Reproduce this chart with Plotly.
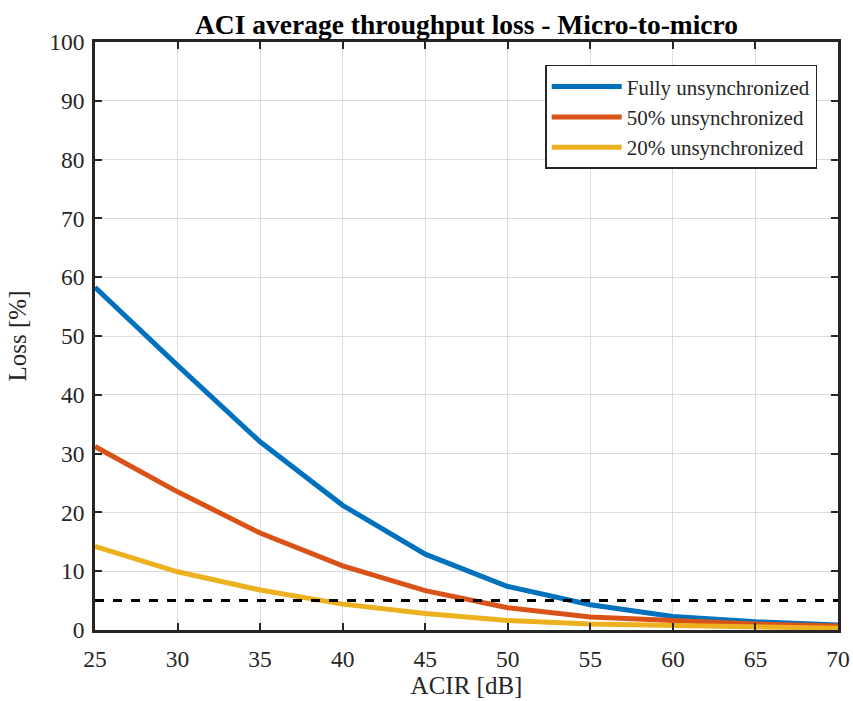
import plotly.graph_objects as go

acir = [25, 30, 35, 40, 45, 50, 55, 60, 65, 70]
fully = [58.3, 45.0, 32.0, 21.2, 12.9, 7.4, 4.3, 2.3, 1.4, 0.85]
half = [31.2, 23.5, 16.5, 10.9, 6.7, 3.8, 2.2, 1.5, 1.0, 0.7]
twenty = [14.2, 9.9, 6.8, 4.4, 2.8, 1.6, 1.0, 0.7, 0.5, 0.3]
threshold = [5, 5]
names = ["Fully unsynchronized", "50% unsynchronized", "20% unsynchronized"]
colors = ["#0072BD", "#D95319", "#EDB120"]

font = "Liberation Serif, Times New Roman, serif"
W, H = 853, 701
fig = go.Figure()
for ys, n, c in zip([fully, half, twenty], names, colors):
    fig.add_trace(go.Scatter(x=acir, y=ys, mode="lines", name=n,
                             line=dict(color=c, width=5)))
fig.add_trace(go.Scatter(x=[acir[0], acir[-1]], y=threshold, mode="lines",
                         showlegend=False,
                         line=dict(color="black", width=3, dash="dash")))

axis_common = dict(showline=True, linecolor="#262626", linewidth=2.5, mirror="ticks",
                   ticks="inside", ticklen=7, tickwidth=1.5, tickcolor="#262626",
                   showgrid=True, gridcolor="#DCDCDC", gridwidth=1, zeroline=False,
                   automargin=False,
                   tickfont=dict(family=font, size=23.5, color="#262626"))
fig.update_xaxes(range=[25, 70], tickmode="linear", tick0=25, dtick=5,
                 ticklabelstandoff=6,
                 title=dict(text="ACIR [dB]", font=dict(family=font, size=25, color="#262626"),
                            standoff=3),
                 **axis_common)
fig.update_yaxes(range=[0, 100], tickmode="linear", tick0=0, dtick=10,
                 ticklabelstandoff=3,
                 title=dict(text="Loss [%]", font=dict(family=font, size=25, color="#262626"),
                            standoff=16),
                 **axis_common)
fig.update_layout(
    width=W, height=H,
    margin=dict(l=95, r=15, t=42, b=71),
    plot_bgcolor="white", paper_bgcolor="white",
    title=dict(text="<b>ACI average throughput loss - Micro-to-micro</b>",
               font=dict(family=font, size=27.5, color="black"),
               x=0.5, xref="paper", xanchor="center",
               yref="container", y=1 - 34 / H, yanchor="bottom"),
    legend=dict(x=0.972, y=0.961, xanchor="right", yanchor="top",
                bgcolor="white", bordercolor="#262626", borderwidth=1.5,
                font=dict(family=font, size=21, color="#262626"),
                tracegroupgap=0, itemwidth=70),
    showlegend=True,
)
fig.write_html("out.html", config={"displayModeBar": False},
               post_script="document.body.style.margin='0';document.body.style.overflow='hidden';")
